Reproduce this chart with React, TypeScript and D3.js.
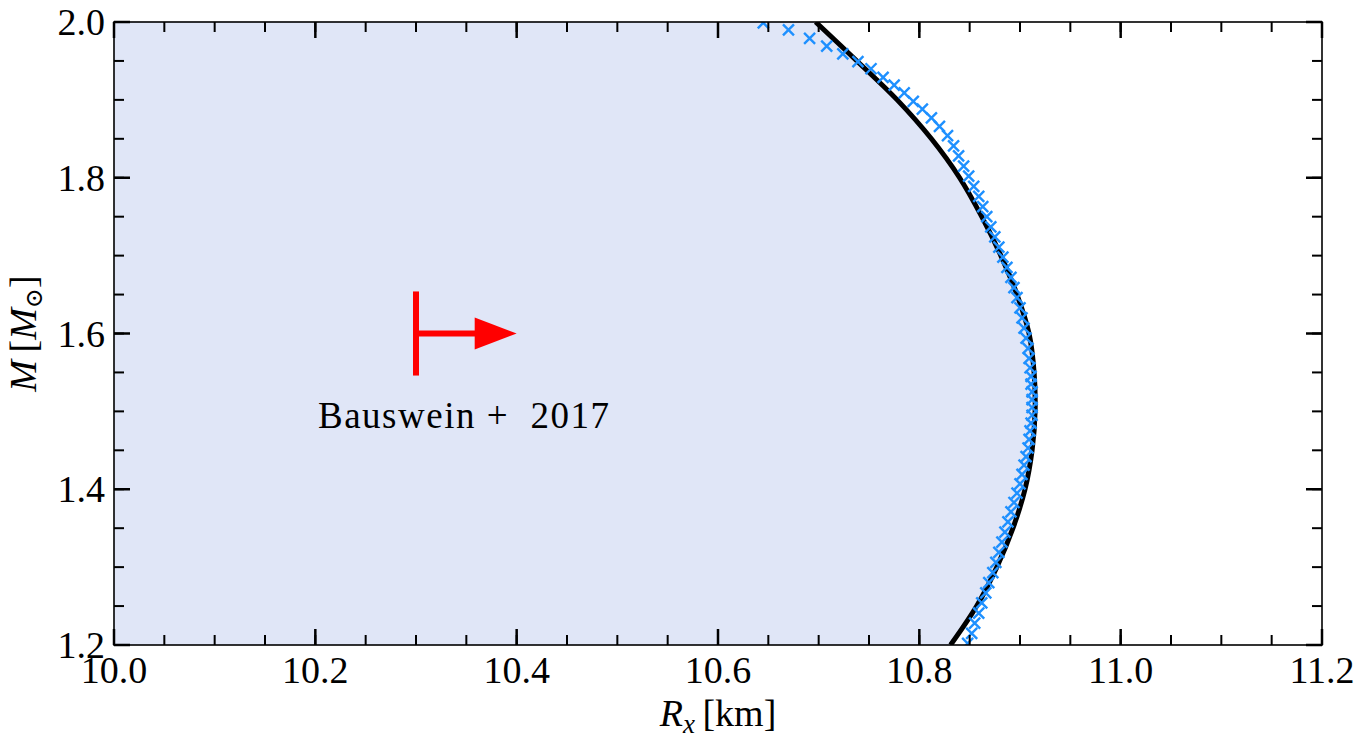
import * as d3 from "d3";

const WIDTH = 1365;
const HEIGHT = 748;
const MARGIN = { top: 22, right: 43, bottom: 103, left: 114 };

// black M-R curve
const M_CURVE = [1.2, 1.25, 1.3, 1.35, 1.4, 1.45, 1.5, 1.55, 1.6, 1.65, 1.7, 1.75, 1.8, 1.85, 1.9, 1.95, 2.0];
const R_CURVE = [10.831, 10.857, 10.877, 10.893, 10.905, 10.912, 10.915, 10.914, 10.909, 10.897, 10.881, 10.862, 10.84, 10.812, 10.778, 10.738, 10.697];

// blue crosses
const M_CROSS = [
  1.999, 1.99, 1.979, 1.969, 1.959, 1.949, 1.94, 1.929, 1.919, 1.909, 1.898, 1.888, 1.877, 1.866, 1.854, 1.841,
  1.828, 1.815, 1.802, 1.789, 1.776, 1.763, 1.75, 1.737, 1.724, 1.711, 1.698, 1.685, 1.672, 1.659, 1.646, 1.633,
  1.62, 1.607, 1.594, 1.581, 1.568, 1.556, 1.545, 1.535, 1.525, 1.515, 1.505, 1.495, 1.485, 1.475, 1.464, 1.453,
  1.442, 1.431, 1.419, 1.407, 1.395, 1.383, 1.371, 1.358, 1.345, 1.332, 1.319, 1.306, 1.293, 1.28, 1.267, 1.254,
  1.241, 1.228, 1.215, 1.202,
];
const R_CROSS = [
  10.645, 10.67, 10.691, 10.708, 10.724, 10.739, 10.752, 10.764, 10.775, 10.785, 10.794, 10.803, 10.812, 10.82, 10.828, 10.834,
  10.839, 10.844, 10.849, 10.854, 10.859, 10.863, 10.867, 10.871, 10.875, 10.879, 10.883, 10.887, 10.891, 10.894, 10.897, 10.9,
  10.902, 10.904, 10.906, 10.908, 10.909, 10.91, 10.911, 10.911, 10.912, 10.912, 10.912, 10.912, 10.911, 10.91, 10.909, 10.908,
  10.906, 10.904, 10.902, 10.9, 10.897, 10.894, 10.891, 10.888, 10.885, 10.882, 10.879, 10.876, 10.873, 10.869, 10.866, 10.862,
  10.859, 10.855, 10.852, 10.848,
];

const X_TICKS = [10.0, 10.2, 10.4, 10.6, 10.8, 11.0, 11.2];
const Y_TICKS = [1.2, 1.4, 1.6, 1.8, 2.0];

// Bauswein et al. 2017 lower limit
const LIMIT_R = 10.3;
const LIMIT_R_END = 10.4;
const LIMIT_M = 1.6;
const LIMIT_DM = 0.054;
const LIMIT_LABEL = "Bauswein +  2017";

const FONT = "Liberation Serif";
const FILL = "#e0e6f7";
const CROSS = "#1e90ff";

type Pt = { r: number; m: number };

export default function App() {
  const boundsWidth = WIDTH - MARGIN.left - MARGIN.right;
  const boundsHeight = HEIGHT - MARGIN.top - MARGIN.bottom;

  const xScale = d3.scaleLinear().domain([10.0, 11.2]).range([0, boundsWidth]);
  const yScale = d3.scaleLinear().domain([1.2, 2.0]).range([boundsHeight, 0]);

  const curve: Pt[] = M_CURVE.map((m, i) => ({ m, r: R_CURVE[i] }));
  const crosses: Pt[] = M_CROSS.map((m, i) => ({ m, r: R_CROSS[i] }));

  const linePath = d3
    .line<Pt>()
    .x((d) => xScale(d.r))
    .y((d) => yScale(d.m))
    .curve(d3.curveCatmullRom)(curve);

  const areaPath = d3
    .area<Pt>()
    .y((d) => yScale(d.m))
    .x0(0)
    .x1((d) => xScale(d.r))
    .curve(d3.curveCatmullRom)(curve);

  const xMinor = xScale.ticks(24);
  const yMinor = yScale.ticks(16);
  const fmt = d3.format(".1f");

  const MAJ = 16;
  const MIN = 10;

  const lx = xScale(LIMIT_R);
  const lxEnd = xScale(LIMIT_R_END);
  const ly = yScale(LIMIT_M);
  const head = 42;

  return (
    <svg
      width={WIDTH}
      height={HEIGHT}
      style={{ position: "absolute", left: 0, top: 0, background: "#fff" }}
    >
      <defs>
        <clipPath id="plot-clip">
          <rect x={0} y={0} width={boundsWidth} height={boundsHeight} />
        </clipPath>
      </defs>
      <g transform={`translate(${MARGIN.left},${MARGIN.top})`}>
        <g clipPath="url(#plot-clip)">
          <path d={areaPath || ""} fill={FILL} />
          <path d={linePath || ""} fill="none" stroke="#000" strokeWidth={5} />
          {crosses.map((d, i) => (
            <path
              key={i}
              transform={`translate(${xScale(d.r)},${yScale(d.m)})`}
              d="M-5.5,-5.5L5.5,5.5M-5.5,5.5L5.5,-5.5"
              stroke={CROSS}
              strokeWidth={2.4}
              fill="none"
            />
          ))}
        </g>

        {/* lower limit marker */}
        <line x1={lx} x2={lx} y1={yScale(LIMIT_M + LIMIT_DM)} y2={yScale(LIMIT_M - LIMIT_DM)} stroke="red" strokeWidth={6} />
        <line x1={lx} x2={lxEnd - head + 2} y1={ly} y2={ly} stroke="red" strokeWidth={6} />
        <path d={`M${lxEnd - head},${ly - 16}L${lxEnd},${ly}L${lxEnd - head},${ly + 16}Z`} fill="red" />
        <text
          x={lx - 98}
          y={ly + 94}
          fontSize={37}
          fontFamily={FONT}
          letterSpacing={1.5}
          style={{ whiteSpace: "pre" }}
        >
          {LIMIT_LABEL}
        </text>

        {/* ticks, all four sides, inward */}
        {xMinor.map((t, i) => (
          <g key={"xm" + i} stroke="#000" strokeWidth={2}>
            <line x1={xScale(t)} x2={xScale(t)} y1={boundsHeight} y2={boundsHeight - MIN} />
            <line x1={xScale(t)} x2={xScale(t)} y1={0} y2={MIN} />
          </g>
        ))}
        {yMinor.map((t, i) => (
          <g key={"ym" + i} stroke="#000" strokeWidth={2}>
            <line x1={0} x2={MIN} y1={yScale(t)} y2={yScale(t)} />
            <line x1={boundsWidth} x2={boundsWidth - MIN} y1={yScale(t)} y2={yScale(t)} />
          </g>
        ))}
        {X_TICKS.map((t) => (
          <g key={"x" + t}>
            <g stroke="#000" strokeWidth={2.5}>
              <line x1={xScale(t)} x2={xScale(t)} y1={boundsHeight} y2={boundsHeight - MAJ} />
              <line x1={xScale(t)} x2={xScale(t)} y1={0} y2={MAJ} />
            </g>
            <text x={xScale(t)} y={boundsHeight + 38} fontSize={38} fontFamily={FONT} textAnchor="middle">
              {fmt(t)}
            </text>
          </g>
        ))}
        {Y_TICKS.map((t) => (
          <g key={"y" + t}>
            <g stroke="#000" strokeWidth={2.5}>
              <line x1={0} x2={MAJ} y1={yScale(t)} y2={yScale(t)} />
              <line x1={boundsWidth} x2={boundsWidth - MAJ} y1={yScale(t)} y2={yScale(t)} />
            </g>
            <text x={-9} y={yScale(t) + 13} fontSize={38} fontFamily={FONT} textAnchor="end">
              {fmt(t)}
            </text>
          </g>
        ))}

        <rect x={0} y={0} width={boundsWidth} height={boundsHeight} fill="none" stroke="#000" strokeWidth={1.6} />

        {/* axis labels */}
        <text x={boundsWidth / 2} y={boundsHeight + 81} fontSize={38} fontFamily={FONT} textAnchor="middle">
          <tspan fontStyle="italic">R</tspan>
          <tspan fontStyle="italic" fontSize={27} dy={7}>x</tspan>
          <tspan dy={-7}>{"\u2009[km]"}</tspan>
        </text>
        <text
          transform={`translate(${-78},${boundsHeight / 2}) rotate(-90)`}
          fontSize={38}
          fontFamily={FONT}
          textAnchor="middle"
        >
          <tspan fontStyle="italic">M</tspan>
          <tspan>{"\u2009["}</tspan>
          <tspan fontStyle="italic">M</tspan>
          <tspan fontSize={24} dy={6} fontFamily="DejaVu Serif">{"\u2299"}</tspan>
          <tspan dy={-6}>]</tspan>
        </text>
      </g>
    </svg>
  );
}
